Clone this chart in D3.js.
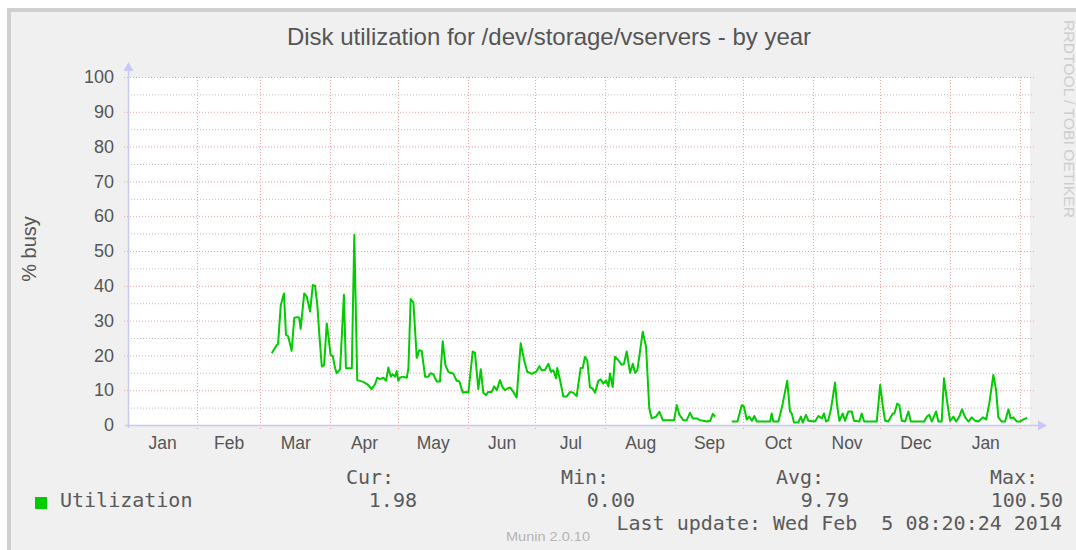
<!DOCTYPE html>
<html lang="en">
<head>
<meta charset="utf-8">
<title>Disk utilization</title>
<script src="https://cdn.jsdelivr.net/npm/d3@7/dist/d3.min.js"></script>
<style>
  body { margin: 0; background: #fff; }
  svg text { font-family: "Liberation Sans", Arial, sans-serif; }
  .mono { font-family: "DejaVu Sans Mono", monospace !important; }
</style>
</head>
<body>
<script>
// days since 2013-01-01 (UTC) and % busy (null = gap)
var days = [64.1,66.3,66.9,68.1,69.5,70.4,71.4,72.9,74.1,75.4,
  76.3,76.9,78.5,79.6,81.1,82.3,83.3,84.3,85.2,86.3,
  87.3,88.5,89.5,90.2,91.1,92.2,92.9,94.4,96.1,97.0,
  99.6,100.7,102.0,104.7,106.5,108.4,109.9,110.9,112.1,113.6,
  114.8,115.8,116.9,117.7,118.8,119.5,120.2,121.0,122.2,124.0,
  124.7,125.7,126.9,128.4,129.5,130.6,132.1,133.5,134.6,135.7,
  137.3,138.7,139.9,141.1,142.4,143.2,144.6,146.1,147.3,148.8,
  150.2,151.3,153.2,154.2,155.7,156.8,157.9,159.1,160.1,161.6,
  162.7,163.9,165.3,166.5,167.5,168.6,169.8,171.2,172.7,174.5,
  176.0,177.4,179.4,181.3,182.8,183.8,185.3,186.8,187.8,189.0,
  190.2,190.7,191.9,193.4,194.9,196.4,197.8,199.3,201.1,202.0,
  203.0,204.0,205.2,206.4,207.5,208.9,210.0,211.1,212.3,213.4,
  214.1,215.3,216.3,217.8,219.3,220.3,221.5,223.0,224.2,225.2,
  226.2,227.4,228.6,230.1,231.5,232.6,234.5,236.0,237.5,242.5,
  243.7,244.9,246.6,248.1,249.6,250.8,252.6,254.0,255.5,257.0,
  258.5,259.7,260.7,264,268.1,270.6,272.5,273.5,274.7,275.9,
  277.0,278.1,279.2,285.1,285.8,286.5,288.8,290.7,292.7,293.9,
  294.7,295.7,297.6,298.7,299.6,301.0,302.1,305.0,306.5,308.0,
  309.0,309.9,310.9,312.0,312.9,313.9,314.7,315.8,317.3,318.3,
  319.8,321.3,322.3,324.7,325.7,326.8,332.4,333.9,335.1,336.1,
  337.5,339.5,340.2,341.5,342.4,343.5,345.0,346.4,347.5,353.4,
  354.6,355.7,356.8,358.7,359.7,361.2,362.2,363.7,364.9,366.4,
  367.6,369.0,370.2,371.6,373.0,374.5,376.0,377.5,379.4,380.9,
  382.3,384.1,385.3,386.3,387.8,389.3,390.8,391.8,393.0,394.5,
  396.0,397.4,399.1];

var busy = [20.6,23,23.3,34.5,37.8,25.9,25.5,21.3,30.8,31,
  30.8,27.6,37.8,36.9,32.6,40.2,40,34.5,25.9,16.8,
  17.2,29.2,23.9,20.1,19.9,16.3,14.9,16,37.4,16.3,
  16.3,54.6,12.9,12.4,11.7,10.3,11.7,13.6,13.2,13.6,
  12.7,16.5,13.9,14.6,13.9,15.5,12.7,13.6,13.9,13.6,
  16.3,36.2,35.2,19.3,21.5,21.3,13.9,13.9,14.9,14.6,
  12.5,12.5,24.1,17.2,15.3,15.0,14.8,12.7,12.5,9.3,
  9.5,9.3,21.1,20.8,10.3,16,9.3,8.6,9.5,9.5,
  11.1,10,12.9,10.8,10,10.5,10.8,9.5,7.9,23.5,
  18.7,15.3,14.7,15.3,16.9,15.7,15.9,17.6,15.3,15.7,
  13.4,16.4,13,8.2,8.2,9.5,9.3,8.3,16.4,16.4,
  19.6,18.6,10.8,10.5,9.3,12.7,13.1,11.9,12.8,11.1,
  14.8,10.9,19.6,18.6,17.3,17.6,21.1,15,17.6,15,
  15.7,21.1,26.8,22.4,4.8,1.9,2.4,3.8,1.4,1.4,
  5.7,2.9,1.4,1.4,3.5,1.9,1.9,1.4,1.2,1.0,
  1.2,3.2,2.4,null,1.0,1.0,5.7,5.3,1.6,2.4,
  1.2,2.6,1.0,1.0,3.3,1.0,1.0,6.2,12.7,3.9,
  3.3,0.7,0.7,2.4,0.7,2.9,1.2,1.0,2.6,1.9,
  3.3,1.0,1.4,4.3,7.9,12.2,6.2,1.2,3.3,1.2,
  3.9,3.9,1.2,1.0,3.3,1.0,1.0,11.5,5.3,1.2,
  1.0,3.3,3.3,6.2,5.7,1.2,1.0,3.9,1.0,1.0,
  2.4,2.9,1.0,3.9,1.0,1.0,13.4,6.2,1.2,2.4,
  1.0,2.4,4.5,2.2,1.0,2.2,1.2,1.0,2.2,1.6,
  6.2,14.4,10.1,2.2,1.0,1.0,4.5,1.9,2.2,1.0,
  1.0,1.6,2.0];

var yTicks = [0,10,20,30,40,50,60,70,80,90,100];
var yMinor = [5,15,25,35,45,55,65,75,85,95];
var statLabels = ["Cur:", "Min:", "Avg:", "Max:"];
var statValues = ["1.98", "0.00", "9.79", "100.50"];
var seriesName = "Utilization";
var lastUpdate = "Last update: Wed Feb  5 08:20:24 2014";

var W = 1076, H = 550;
var plot = { left: 128, right: 1030, top: 77, bottom: 425 };

var t0 = Date.UTC(2013, 0, 1, 8, 20), t1 = Date.UTC(2014, 1, 5, 8, 20);
var x = d3.scaleUtc().domain([t0, t1]).range([plot.left, plot.right]);
var y = d3.scaleLinear().domain([0, 100]).range([plot.bottom, plot.top]);

var points = days.map(function(d, i) {
  return { t: new Date(Date.UTC(2013, 0, 1) + d * 864e5), v: busy[i] };
});

var svg = d3.select("body").append("svg")
  .attr("width", W).attr("height", H);

// canvas + frame
svg.append("rect").attr("x", 0).attr("y", 0).attr("width", W).attr("height", H).attr("fill", "#fff");
svg.append("rect").attr("x", 7).attr("y", 8).attr("width", W).attr("height", H)
  .attr("fill", "#f0f0f0");
svg.append("path").attr("d", "M9,560V10H1080").attr("fill", "none")
  .attr("stroke", "#cfcfcf").attr("stroke-width", 4);

// plot background
svg.append("rect").attr("x", plot.left).attr("y", plot.top)
  .attr("width", plot.right - plot.left).attr("height", plot.bottom - plot.top)
  .attr("fill", "#fff");

// minor horizontal grid
svg.append("g").selectAll("line").data(yMinor).enter().append("line")
  .attr("x1", plot.left).attr("x2", plot.right + 3)
  .attr("y1", function(d) { return y(d) + 0.5; })
  .attr("y2", function(d) { return y(d) + 0.5; })
  .attr("stroke", "#bdbdbd").attr("stroke-width", 1).attr("stroke-dasharray", "1,2");

// major horizontal grid
svg.append("g").selectAll("line").data(yTicks.slice(1)).enter().append("line")
  .attr("x1", plot.left - 4).attr("x2", plot.right + 4)
  .attr("y1", function(d) { return y(d) + 0.5; })
  .attr("y2", function(d) { return y(d) + 0.5; })
  .attr("stroke", "#f0a0a0").attr("stroke-width", 1).attr("stroke-dasharray", "1,2");

// month grid
var months = d3.utcMonth.range(new Date(t0), new Date(t1));
svg.append("g").selectAll("line").data(months).enter().append("line")
  .attr("x1", function(d) { return Math.round(x(d)) + 0.5; })
  .attr("x2", function(d) { return Math.round(x(d)) + 0.5; })
  .attr("y1", plot.top).attr("y2", plot.bottom + 5)
  .attr("stroke", "#f0a0a0").attr("stroke-width", 1).attr("stroke-dasharray", "1,2");

// axes lines with arrows
var axisCol = "#c8c8f4";
svg.append("line").attr("x1", plot.left + 0.5).attr("x2", plot.left + 0.5)
  .attr("y1", plot.bottom + 3).attr("y2", plot.top - 8)
  .attr("stroke", axisCol).attr("stroke-width", 1.5);
svg.append("line").attr("x1", plot.left - 3).attr("x2", plot.right + 12)
  .attr("y1", plot.bottom + 0.5).attr("y2", plot.bottom + 0.5)
  .attr("stroke", axisCol).attr("stroke-width", 1.5);
svg.append("path")
  .attr("d", "M" + (plot.left - 4.5) + "," + (plot.top - 6) + "L" + (plot.left + 0.5) + "," + (plot.top - 15) +
    "L" + (plot.left + 5.5) + "," + (plot.top - 6) + "Z")
  .attr("fill", axisCol);
svg.append("path")
  .attr("d", "M" + (plot.right + 8) + "," + (plot.bottom - 4.5) + "L" + (plot.right + 17) + "," + (plot.bottom + 0.5) +
    "L" + (plot.right + 8) + "," + (plot.bottom + 5.5) + "Z")
  .attr("fill", axisCol);

// data line
var line = d3.line()
  .defined(function(d) { return d.v !== null; })
  .x(function(d) { return x(d.t); })
  .y(function(d) { return y(d.v); });
svg.append("path").datum(points)
  .attr("d", line).attr("fill", "none")
  .attr("stroke", "#00cc00").attr("stroke-width", 2).attr("stroke-linejoin", "round");

// y axis labels
var yAxis = svg.append("g").attr("transform", "translate(" + (plot.left - 2) + ",0)")
  .call(d3.axisLeft(y).tickValues(yTicks).tickSize(0).tickPadding(12));
yAxis.select(".domain").remove();
yAxis.selectAll("text").attr("fill", "#555").style("font-size", "18px")
  .style("font-family", "'Liberation Sans', Arial, sans-serif");

// x axis month labels, centred in month (Jan 2013 .. Jan 2014)
var firstMonth = d3.utcMonth.floor(new Date(t0));
var labelMonths = d3.utcMonth.range(firstMonth, d3.utcMonth.floor(new Date(t1)));
var mids = labelMonths.map(function(m) {
  var b = +d3.utcMonth.offset(m, 1);
  return new Date((+m + b) / 2);
});
var xAxis = svg.append("g").attr("transform", "translate(0," + plot.bottom + ")")
  .call(d3.axisBottom(x).tickValues(mids).tickSize(0).tickPadding(12)
    .tickFormat(d3.utcFormat("%b")));
xAxis.select(".domain").remove();
xAxis.selectAll("text").attr("fill", "#555").style("font-size", "17.5px")
  .style("font-family", "'Liberation Sans', Arial, sans-serif");

// title
svg.append("text").attr("x", 549).attr("y", 45).attr("text-anchor", "middle")
  .attr("fill", "#555").style("font-size", "24px")
  .text("Disk utilization for /dev/storage/vservers - by year");

// y title
svg.append("text").attr("transform", "translate(36,249) rotate(-90)")
  .attr("text-anchor", "middle").attr("fill", "#555").style("font-size", "20px")
  .text("% busy");

// legend
svg.append("rect").attr("x", 35).attr("y", 497).attr("width", 12).attr("height", 12)
  .attr("fill", "#00cc00");
svg.append("text").attr("class", "mono").attr("x", 60).attr("y", 507)
  .attr("fill", "#5a5a5a").style("font-size", "20px").text(seriesName);

var statLabelX = [346, 561, 776, 990];
var statValueRight = [417, 635, 849, 1063];
svg.append("g").selectAll("text").data(statLabels).enter().append("text")
  .attr("class", "mono").attr("x", function(d, i) { return statLabelX[i]; }).attr("y", 484)
  .attr("fill", "#5a5a5a").style("font-size", "20px").text(function(d) { return d; });
svg.append("g").selectAll("text").data(statValues).enter().append("text")
  .attr("class", "mono").attr("x", function(d, i) { return statValueRight[i]; }).attr("y", 507)
  .attr("text-anchor", "end")
  .attr("fill", "#5a5a5a").style("font-size", "20px").text(function(d) { return d; });
svg.append("text").attr("class", "mono").attr("x", 1062).attr("y", 530)
  .attr("text-anchor", "end").attr("fill", "#5a5a5a").style("font-size", "20px")
  .style("white-space", "pre").attr("xml:space", "preserve")
  .text(lastUpdate);

// watermarks
svg.append("text").attr("x", 506).attr("y", 541).attr("fill", "#b4b4b4")
  .style("font-size", "12px").attr("textLength", 84).attr("lengthAdjust", "spacingAndGlyphs")
  .text("Munin 2.0.10");
svg.append("text").attr("transform", "translate(1064,20) rotate(90)")
  .attr("fill", "#cdcdcd").style("font-size", "14px")
  .attr("textLength", 198).attr("lengthAdjust", "spacingAndGlyphs")
  .text("RRDTOOL / TOBI OETIKER");
</script>
</body>
</html>
